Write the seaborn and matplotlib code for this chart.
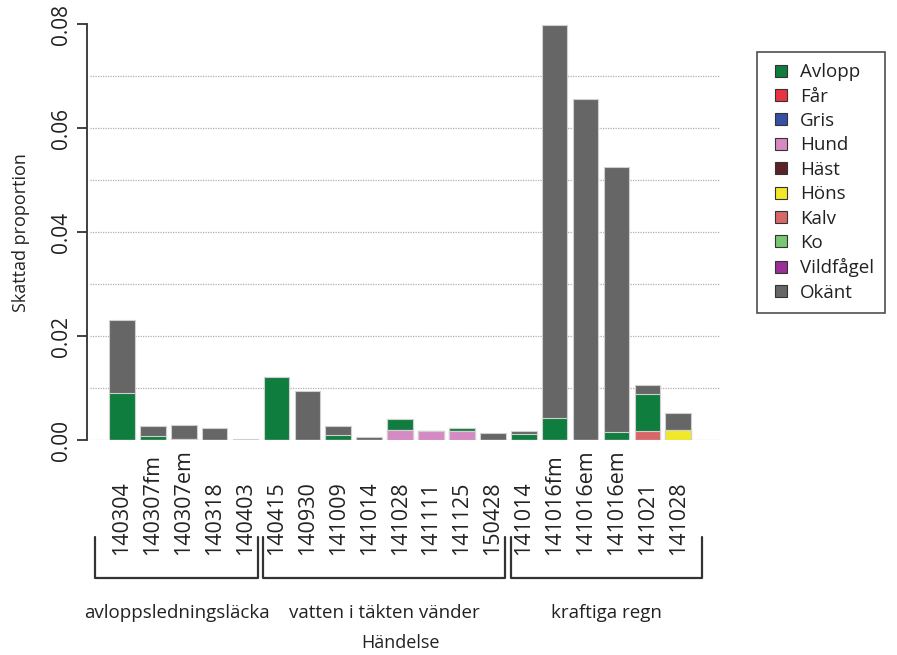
import matplotlib
matplotlib.use("Agg")
import matplotlib.pyplot as plt
import matplotlib.transforms as mtransforms
from matplotlib.lines import Line2D
import numpy as np
import seaborn as sns

sns.set_theme(style="white")
plt.rcParams["font.family"] = ["Open Sans", "DejaVu Sans"]

# Sampling events (x axis), grouped by type of event
events = ["140304", "140307fm", "140307em", "140318", "140403",
          "140415", "140930", "141009", "141014", "141028", "141111", "141125", "150428",
          "141014", "141016fm", "141016em", "141016em", "141021", "141028"]
group_names = ["avloppsledningsläcka", "vatten i täkten vänder", "kraftiga regn"]
group_sizes = [5, 8, 6]

# Estimated proportion per source, one value per event
avlopp    = [0.0090, 0.0008, 0.0, 0.0, 0.0, 0.0121, 0.0, 0.0010, 0.0, 0.0021, 0.0, 0.0007, 0.0,
             0.0011, 0.0042, 0.0, 0.0015, 0.0071, 0.0]
far       = [0.0] * 19
gris      = [0.0] * 19
hund      = [0.0, 0.0, 0.0, 0.0, 0.0, 0.0, 0.0, 0.0, 0.0, 0.0019, 0.0017, 0.0017, 0.0,
             0.0, 0.0, 0.0, 0.0, 0.0, 0.0]
hast      = [0.0] * 19
hons      = [0.0, 0.0, 0.0003, 0.0, 0.0, 0.0, 0.0, 0.0, 0.0, 0.0, 0.0, 0.0, 0.0,
             0.0, 0.0, 0.0, 0.0, 0.0, 0.0020]
kalv      = [0.0, 0.0, 0.0, 0.0, 0.0, 0.0, 0.0, 0.0, 0.0, 0.0, 0.0, 0.0, 0.0,
             0.0, 0.0, 0.0, 0.0, 0.0017, 0.0]
ko        = [0.0] * 19
vildfagel = [0.0] * 19
okant     = [0.0141, 0.0020, 0.0027, 0.0023, 0.0003, 0.0, 0.0095, 0.0017, 0.0007, 0.0, 0.0, 0.0, 0.0014,
             0.0007, 0.0756, 0.0656, 0.0510, 0.0018, 0.0033]

legend_order = ["Avlopp", "Får", "Gris", "Hund", "Häst", "Höns", "Kalv", "Ko", "Vildfågel", "Okänt"]
series = {"Avlopp": avlopp, "Får": far, "Gris": gris, "Hund": hund, "Häst": hast,
          "Höns": hons, "Kalv": kalv, "Ko": ko, "Vildfågel": vildfagel, "Okänt": okant}
colors = {"Avlopp": "#0f7d3e", "Får": "#ea3340", "Gris": "#3550a4", "Hund": "#d68ac3",
          "Häst": "#5b2326", "Höns": "#f1e827", "Kalv": "#d9676a", "Ko": "#79c673",
          "Vildfågel": "#9a2f98", "Okänt": "#666666"}
# bottom -> top stacking order
stack_order = ["Hund", "Höns", "Kalv", "Ko", "Får", "Gris", "Häst", "Vildfågel", "Avlopp", "Okänt"]

fig = plt.figure(figsize=(8.97, 6.55), dpi=100)
ax = fig.add_axes([0.097, 0.328, 0.706, 0.635])

pos = np.arange(len(events))
cum = np.zeros(len(events))
layers = []
for name in stack_order:
    vals = np.array(series[name])
    cum = cum + vals
    if vals.sum() > 0:
        layers.append((name, cum.copy()))

# draw cumulative heights from the top layer down so lower layers overlay
for name, heights in reversed(layers):
    sns.barplot(x=pos, y=heights, color=colors[name], saturation=1, width=0.83,
                errorbar=None, edgecolor="#d0d0d0", linewidth=0.8, ax=ax, zorder=3)

# dotted horizontal guide lines
for g in np.arange(0, 0.0701, 0.01):
    ax.axhline(g, color="#b0b0b0", lw=0.9, ls=(0, (1, 1)), zorder=2, xmin=0.005)

ax.set_xlim(-1.13, 19.36)
ax.set_ylim(0, 0.08)
ax.set_yticks([0.0, 0.02, 0.04, 0.06, 0.08])
ax.set_yticklabels(["0.00", "0.02", "0.04", "0.06", "0.08"], rotation=90, va="center")
ax.tick_params(axis="y", direction="out", length=7, width=1.2, pad=4, labelsize=15,
               colors="#222222", left=True)
ax.set_xticks([])
for s in ["top", "right", "bottom"]:
    ax.spines[s].set_visible(False)
ax.spines["left"].set_color("#333333")
ax.spines["left"].set_linewidth(1.3)
ax.set_xlabel("")
ax.set_ylabel("Skattad proportion", fontsize=13, color="#222222")
ax.yaxis.set_label_coords(-0.09, 0.5)

trans = mtransforms.blended_transform_factory(ax.transData, ax.transAxes)

# event labels under each bar
for i, lab in enumerate(events):
    ax.text(i, -0.277, lab, rotation=90, ha="center", va="bottom", fontsize=15.5,
            color="#222222", transform=trans, clip_on=False)

# brackets and group names
bracket_pads = [(-0.87, 0.41), (-0.43, 0.40), (-0.42, 0.78)]
start = 0
for name, size, (lp, rp) in zip(group_names, group_sizes, bracket_pads):
    first, last = start, start + size - 1
    x0, x1 = first + lp, last + rp
    ax.plot([x0, x0, x1, x1], [-0.233, -0.332, -0.332, -0.233], color="#333333",
            lw=1.6, transform=trans, clip_on=False)
    ax.text((x0 + x1) / 2, -0.416, name, ha="center", va="center", fontsize=13.5,
            color="#222222", transform=trans, clip_on=False)
    start += size

ax.text(9.0, -0.488, "Händelse", ha="center", va="center", fontsize=13,
        color="#222222", transform=trans, clip_on=False)

handles = [Line2D([0], [0], marker="s", linestyle="None", markersize=9,
                  markerfacecolor=colors[n], markeredgecolor="#333333", markeredgewidth=0.8)
           for n in legend_order]
leg = fig.legend(handles, legend_order, loc="upper left",
                 bbox_to_anchor=(757 / 897, 1 - 52 / 655), frameon=True, fancybox=False,
                 fontsize=13.5, labelspacing=0.34, handletextpad=0.3, handlelength=1.4,
                 borderpad=0.6, borderaxespad=0)
leg.get_frame().set_edgecolor("#222222")
leg.get_frame().set_linewidth(1.2)
for t in leg.get_texts():
    t.set_color("#222222")

fig.savefig("out.png", dpi=100)
